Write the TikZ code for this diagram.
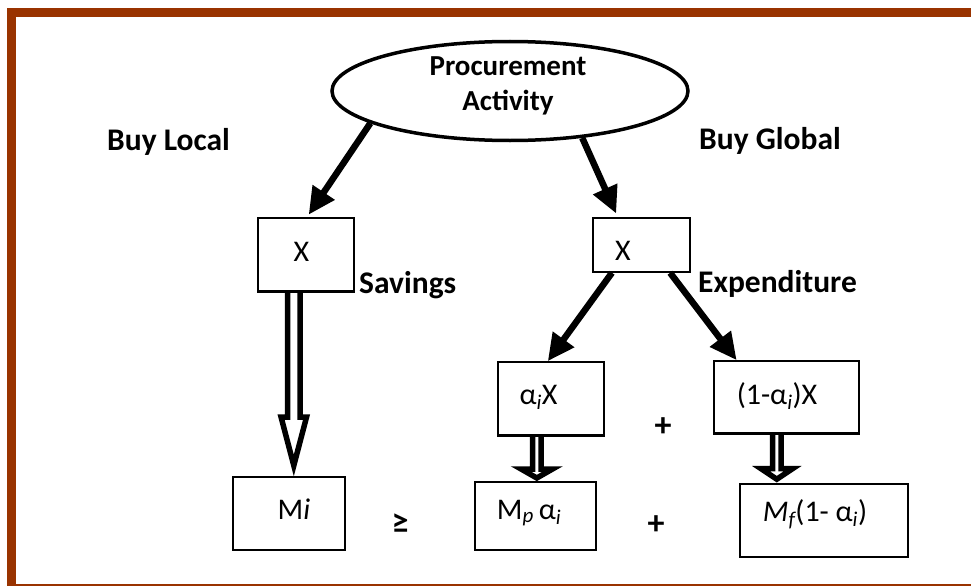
\documentclass[tikz,border=0pt]{standalone}
\usepackage{fontspec}
\setmainfont{Carlito}
\usetikzlibrary{arrows.meta,shapes.geometric,calc}
\definecolor{rust}{HTML}{993300}

% Outlined block arrow pointing straight down.
% #1 start (top of shaft), #2 target (its y gives the tip), #3 shaft half width,
% #4 head half width, #5 head length, #6 gap left above the target
\newcommand\hollowarrow[6]{%
  \draw[hollow] let \p1=(#1), \p2=(#2) in
    (\x1-#3,\y1) -- (\x1-#3,\y2+#6+#5) -- (\x1-#4,\y2+#6+#5) -- (\x1,\y2+#6)
    -- (\x1+#4,\y2+#6+#5) -- (\x1+#3,\y2+#6+#5) -- (\x1+#3,\y1);}

\begin{document}
\begin{tikzpicture}[x=1pt,y=-1pt,
  box/.style={draw, line width=1.6pt, inner sep=0pt},
  boxtext/.style={font=\fontsize{30}{34}\selectfont, inner sep=0pt, anchor=base},
  tag/.style={font=\fontsize{31.5}{36}\selectfont\bfseries, inner sep=0pt},
  sign/.style={font=\fontsize{34}{38}\selectfont\bfseries, inner sep=0pt},
  thick arrow/.style={line width=6.5pt, -{Triangle[length=27pt,width=25pt]}},
  hollow/.style={draw, fill=white, line width=5.5pt, line join=miter}]

\useasboundingbox (0,0) rectangle (971,586);

% frame
\fill[rust] (7,8) rectangle (971,17);
\fill[rust] (7,8) rectangle (16,586);
\fill[rust] (7,584.2) rectangle (971,586);

% root
\node[ellipse, draw, line width=3.5pt, inner sep=0pt,
      minimum width=356pt, minimum height=99pt] (pa) at (510,91) {};
\node[font=\fontsize{29}{35}\selectfont\bfseries, align=center, inner sep=0pt]
      (pat) at (508,86) {Procurement\\Activity};

% branch labels
\node[tag, anchor=base west] (bl) at (107,150) {Buy Local};
\node[tag, anchor=base west] (bg) at (699,149) {Buy Global};
\node[tag, anchor=base west] (sv) at (359,293) {Savings};
\node[tag, anchor=base west] (ex) at (698,292) {Expenditure};

% box frames
\node[box, minimum width=96pt,  minimum height=73pt] (lx) at (306,254.5) {};
\node[box, minimum width=97pt,  minimum height=54pt] (gx) at (641.5,245) {};
\node[box, minimum width=106pt, minimum height=73pt] (ax) at (551,398.5) {};
\node[box, minimum width=145pt, minimum height=72pt] (bx) at (786.5,397) {};
\node[box, minimum width=112pt, minimum height=73pt] (mi) at (289,513.5) {};
\node[box, minimum width=121pt, minimum height=68pt] (mp) at (535.5,516) {};
\node[box, minimum width=168pt, minimum height=73pt] (mf) at (824,520.5) {};

% box contents
\node[boxtext] (tlx) at (301.5,261) {X};
\node[boxtext] (tgx) at (623,260) {X};
\node[boxtext] (tax) at (538.5,404) {α\textsubscript{\itshape i}X};
\node[boxtext] (tbx) at (777,404) {(1-α\textsubscript{\itshape i})X};
\node[boxtext] (tmi) at (294,519) {M\textit{i}};
\node[boxtext] (tmp) at (529,519) {M\textsubscript{\itshape p}\,α\textsubscript{\itshape i}};
\node[boxtext] (tmf) at (815,521) {\textit{M}\textsubscript{\itshape f}(1- α\textsubscript{\itshape i})};

% operators
\node[sign] (p1) at (663,427.5) {+};
\node[sign] (p2) at (656,525) {+};
\node[sign] (ge) at (400,523.5) {≥};

% solid arrows
\draw[thick arrow, shorten >=3pt] (pa.193) -- ($(lx.north west)!0.51!(lx.north east)$);
\draw[thick arrow, shorten >=4pt] (pa.-33) -- ($(gx.north west)!0.26!(gx.north east)$);
\draw[thick arrow] ($(gx.south west)!0.2!(gx.south east)$) -- ($(ax.north west)!0.47!(ax.north east)$);
\draw[thick arrow] ($(gx.south west)!0.79!(gx.south east)$) -- ($(bx.north west)!0.16!(bx.north east)$);

% outlined arrows
\hollowarrow{$(lx.south west)!0.375!(lx.south east)$}{mi.north}{6.25pt}{12.75pt}{48.5pt}{10.7pt}
\hollowarrow{$(ax.south west)!0.368!(ax.south east)$}{mp.north}{4.25pt}{15.75pt}{9pt}{3.2pt}
\hollowarrow{$(bx.south west)!0.434!(bx.south east)$}{mf.north}{4.25pt}{15.75pt}{10.5pt}{4pt}

% redraw frames over arrow ends
\draw[line width=1.6pt] (lx.south west) -- (lx.south east);
\draw[line width=1.6pt] (ax.south west) -- (ax.south east);
\draw[line width=1.6pt] (bx.south west) -- (bx.south east);
\end{tikzpicture}
\end{document}
